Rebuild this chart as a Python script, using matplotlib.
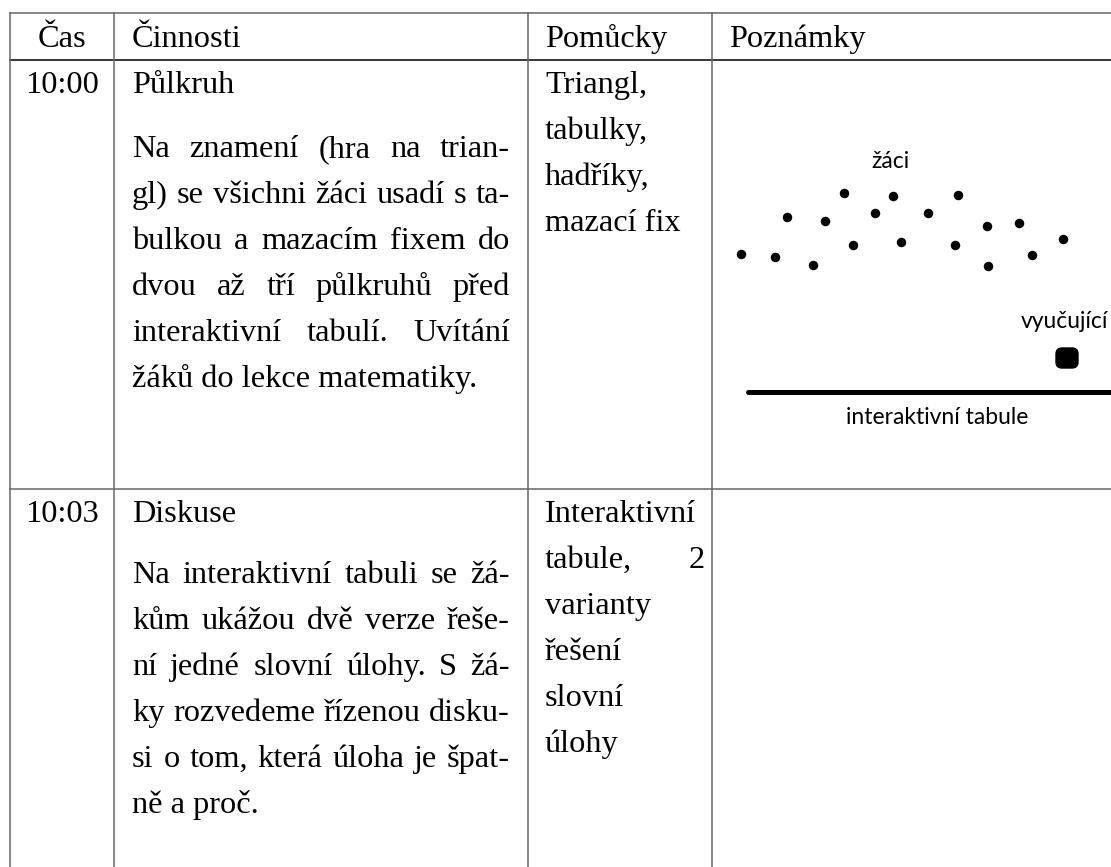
import matplotlib
matplotlib.use("Agg")
import matplotlib.pyplot as plt
from matplotlib.patches import FancyBboxPatch

W, H = 1111, 867

# table content
headers = ["Čas", "Činnosti", "Pomůcky", "Poznámky"]
times = ["10:00", "10:03"]
titles = ["Půlkruh", "Diskuse"]
activity_lines = [
    ["Na znamení (hra na trian-",
     "gl) se všichni žáci usadí s ta-",
     "bulkou a mazacím fixem do",
     "dvou až tří půlkruhů před",
     "interaktivní tabulí. Uvítání",
     "žáků do lekce matematiky."],
    ["Na interaktivní tabuli se žá-",
     "kům ukážou dvě verze řeše-",
     "ní jedné slovní úlohy. S žá-",
     "ky rozvedeme řízenou disku-",
     "si o tom, která úloha je špat-",
     "ně a proč."],
]
tools_lines = [
    ["Triangl,", "tabulky,", "hadříky,", "mazací fix"],
    ["Interaktivní", "tabule, 2", "varianty", "řešení", "slovní", "úlohy"],
]
tools_stretched = [[], ["tabule, 2"]]

# seating sketch in the notes column
student_x = [844, 893, 958, 787, 825, 875, 928, 987, 1019,
             741, 775, 813, 853, 901, 955, 988, 1032, 1063]
student_y = [193, 196, 195, 217, 221, 213, 213, 226, 223,
             254, 257, 265, 245, 242, 245, 266, 255, 239]
sketch_labels = ["žáci", "vyučující", "interaktivní tabule"]

# layout (pixels)
col_x = [10, 114, 528, 712]
top_y, head_y, row_sep = 13, 60, 489
text_x = [62, 132, 545, 729]
para_right = 510
tools_right = 705
row_base = [93, 522]
para_first = [157, 583]
line_step = 46
line_col = "#666666"

SERIF = ["Liberation Serif", "DejaVu Serif"]
SANS = ["Lato", "DejaVu Sans"]
FS = 24.5
SANS_FS = 16.5

fig = plt.figure(figsize=(W / 100, H / 100), dpi=100)
ax = fig.add_axes([0, 0, 1, 1])
ax.set_xlim(0, W)
ax.set_ylim(H, 0)
ax.axis("off")
renderer = fig.canvas.get_renderer()


def text_width(s, size):
    t = ax.text(0, 0, s, family=SERIF, fontsize=size)
    w = t.get_window_extent(renderer).width
    t.remove()
    return w


# shrink the font if some justified line would not fit
widest = max(text_width(l, FS) / (para_right - text_x[1])
             for lines in activity_lines for l in lines)
if widest > 0.995:
    FS = FS * 0.995 / widest


def put_line(text, x0, x1, y, justify):
    kw = dict(family=SERIF, fontsize=FS, va="baseline", ha="left")
    words = text.split(" ")
    if not justify or len(words) == 1:
        ax.text(x0, y, text, **kw)
        return
    arts = [ax.text(0, y, w, **kw) for w in words]
    widths = [a.get_window_extent(renderer).width for a in arts]
    gap = (x1 - x0 - sum(widths)) / (len(words) - 1)
    x = x0
    for a, w in zip(arts, widths):
        a.set_x(x)
        x += w + gap


# grid lines
ax.plot([col_x[0], W], [top_y, top_y], color=line_col, lw=1.1)
ax.plot([col_x[0], W], [head_y, head_y], color="black", lw=1.1)
ax.plot([col_x[0], W], [row_sep, row_sep], color=line_col, lw=1.1)
for cx in col_x:
    ax.plot([cx, cx], [top_y, H], color=line_col, lw=1.1)

# header
ax.text(text_x[0], 47, headers[0], family=SERIF, fontsize=FS, ha="center", va="baseline")
for i in range(1, 4):
    ax.text(text_x[i], 47, headers[i], family=SERIF, fontsize=FS, ha="left", va="baseline")

# rows
for r in range(2):
    y0 = row_base[r]
    ax.text(text_x[0], y0, times[r], family=SERIF, fontsize=FS, ha="center", va="baseline")
    ax.text(text_x[1], y0, titles[r], family=SERIF, fontsize=FS, ha="left", va="baseline")
    lines = activity_lines[r]
    for k, line in enumerate(lines):
        put_line(line, text_x[1], para_right, para_first[r] + k * line_step,
                 justify=k < len(lines) - 1)
    for k, line in enumerate(tools_lines[r]):
        put_line(line, text_x[2], tools_right, y0 + k * line_step,
                 justify=line in tools_stretched[r])

# sketch
ax.scatter(student_x, student_y, s=34, color="black", zorder=3)
ax.text(890, 162, sketch_labels[0], family=SANS, fontsize=SANS_FS, ha="center", va="center")
ax.text(1064, 322, sketch_labels[1], family=SANS, fontsize=SANS_FS, ha="center", va="center")
ax.text(937, 418, sketch_labels[2], family=SANS, fontsize=SANS_FS, ha="center", va="center")
ax.add_patch(FancyBboxPatch((1056, 348), 22, 20, boxstyle="round,pad=0,rounding_size=6",
                            facecolor="black", edgecolor="black"))
ax.plot([748, W + 5], [392, 392], color="black", lw=3.6, solid_capstyle="round")

fig.savefig("out.png", dpi=100)
